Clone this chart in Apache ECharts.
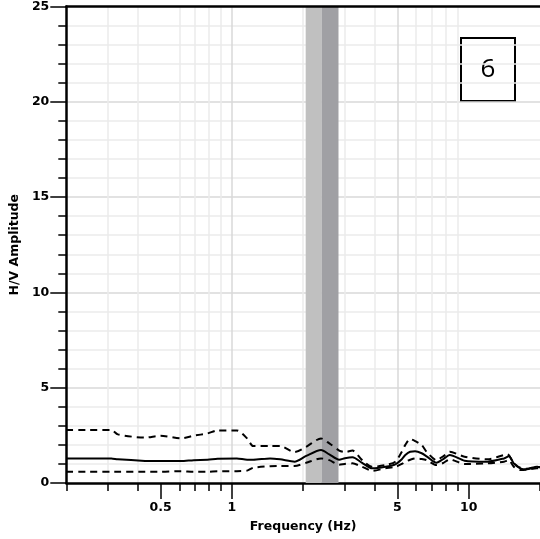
<!DOCTYPE html>
<html><head><meta charset="utf-8">
<script src="https://cdn.jsdelivr.net/npm/echarts@6/dist/echarts.min.js"></script>
<style>html,body{margin:0;padding:0;background:#fff}#c{width:540px;height:539px}</style>
</head><body><div id="c"></div>
<script>
// Frequency (Hz) sample points
const freq = [0.2, 0.25, 0.31, 0.33, 0.43, 0.5, 0.61, 0.69, 0.79, 0.87, 1.05, 1.16, 1.23, 1.45, 1.6, 1.84, 2.06, 2.38, 2.58, 2.84, 3.0, 3.23, 3.55, 3.91, 4.45, 4.9, 5.22, 5.4, 5.66, 5.94, 6.33, 6.64, 7.31, 7.8, 8.32, 9.6, 12.0, 14.1, 14.6, 14.8, 15.5, 16.5, 17.6, 19.4, 20];
// H/V mean curve
const hvMean = [1.29, 1.29, 1.29, 1.24, 1.16, 1.15, 1.15, 1.20, 1.22, 1.27, 1.29, 1.22, 1.22, 1.29, 1.24, 1.12, 1.42, 1.73, 1.50, 1.22, 1.30, 1.35, 1.06, 0.77, 0.85, 0.98, 1.25, 1.47, 1.64, 1.66, 1.56, 1.40, 1.06, 1.25, 1.47, 1.17, 1.12, 1.29, 1.38, 1.42, 1.03, 0.77, 0.72, 0.85, 0.82];
// H/V mean + std (dashed)
const hvUpper = [2.78, 2.78, 2.78, 2.55, 2.38, 2.48, 2.34, 2.48, 2.60, 2.76, 2.76, 2.34, 1.94, 1.94, 1.94, 1.62, 1.90, 2.34, 2.08, 1.70, 1.62, 1.70, 1.20, 0.85, 0.94, 1.12, 1.64, 2.00, 2.30, 2.20, 2.00, 1.64, 1.20, 1.40, 1.64, 1.38, 1.24, 1.47, 1.50, 1.45, 1.05, 0.80, 0.75, 0.85, 0.82];
// H/V mean - std (dashed)
const hvLower = [0.59, 0.59, 0.59, 0.59, 0.59, 0.59, 0.62, 0.59, 0.59, 0.62, 0.62, 0.65, 0.80, 0.88, 0.89, 0.89, 1.06, 1.29, 1.20, 0.96, 1.00, 1.03, 0.85, 0.64, 0.77, 0.85, 1.00, 1.12, 1.22, 1.29, 1.26, 1.20, 0.94, 1.05, 1.24, 1.00, 1.03, 1.12, 1.18, 1.20, 0.85, 0.68, 0.70, 0.77, 0.77];
// f0 band: [f0 - std, f0, f0 + std]
const f0Band = [2.05, 2.40, 2.82];
const majorFreqTicks = [0.5, 1, 5, 10];
const minorFreqTicks = [0.2, 0.3, 0.4, 0.6, 0.7, 0.8, 0.9, 2, 3, 4, 6, 7, 8, 9, 20];
const ampTicks = [0, 5, 10, 15, 20, 25];
const panelLabel = '6';

const FONT = 'DejaVu Sans';
const FS = 12.5;
const chart = echarts.init(document.getElementById('c'));
const pairs = arr => freq.map((f, i) => [f, arr[i]]);
const baseX = {type: 'log', logBase: 10, min: 0.2, max: 20, gridIndex: 0};

chart.setOption({
  animation: false,
  backgroundColor: '#fff',
  grid: {left: 64, right: -3, top: 6, bottom: 56, containLabel: false},
  xAxis: [
    Object.assign({}, baseX, {
      position: 'bottom',
      axisLine: {show: true, onZero: false, lineStyle: {color: '#000', width: 2.5}},
      axisTick: {show: true, customValues: minorFreqTicks, length: 8, lineStyle: {color: '#000', width: 1.5}},
      axisLabel: {show: false},
      splitLine: {show: true, showMinLine: false, showMaxLine: false, lineStyle: {color: '#ebebeb', width: 1.5}}
    }),
    Object.assign({}, baseX, {
      position: 'bottom',
      name: 'Frequency (Hz)', nameLocation: 'middle', nameGap: 37,
      nameTextStyle: {fontFamily: FONT, fontWeight: 'bold', fontSize: FS, color: '#000'},
      axisLine: {show: false},
      axisTick: {show: true, customValues: majorFreqTicks, length: 16, lineStyle: {color: '#000', width: 1.5}},
      axisLabel: {show: true, customValues: majorFreqTicks, margin: 18, fontFamily: FONT, fontWeight: 'bold', fontSize: FS, color: '#000',
        formatter: v => String(+(+v).toPrecision(3))},
      splitLine: {show: true, showMinLine: false, showMaxLine: false, lineStyle: {color: '#d8d8d8', width: 1.5}}
    }),
    Object.assign({}, baseX, {
      position: 'top', z: 5,
      axisLine: {show: true, onZero: false, lineStyle: {color: '#000', width: 2.5}},
      axisTick: {show: false}, axisLabel: {show: false}, splitLine: {show: false}
    })
  ],
  yAxis: {
    type: 'value', min: ampTicks[0], max: ampTicks[ampTicks.length - 1], interval: 5,
    name: 'H/V Amplitude', nameLocation: 'middle', nameGap: 35, nameRotate: 90,
    nameTextStyle: {fontFamily: FONT, fontWeight: 'bold', fontSize: FS, color: '#000'},
    axisLine: {show: true, onZero: false, lineStyle: {color: '#000', width: 2.5}},
    axisTick: {show: true, length: 16, lineStyle: {color: '#000', width: 1.5}},
    minorTick: {show: true, splitNumber: 5, length: 8, lineStyle: {color: '#000', width: 1.5}},
    axisLabel: {margin: 17, fontFamily: FONT, fontWeight: 'bold', fontSize: FS, color: '#000'},
    splitLine: {show: true, showMinLine: false, showMaxLine: false, lineStyle: {color: '#d8d8d8', width: 1.5}},
    minorSplitLine: {show: true, lineStyle: {color: '#ebebeb', width: 1.5}}
  },
  series: [
    {
      type: 'line', xAxisIndex: 0, data: [], silent: true,
      markArea: {silent: true, data: [
        [{xAxis: f0Band[0], itemStyle: {color: '#c0c0c0'}}, {xAxis: f0Band[1]}],
        [{xAxis: f0Band[1], itemStyle: {color: '#a0a0a4'}}, {xAxis: f0Band[2]}]
      ]}
    },
    {type: 'line', xAxisIndex: 0, data: pairs(hvUpper), symbol: 'none', smooth: 0.25, z: 3,
      lineStyle: {color: '#000', width: 2, type: [7, 5]}},
    {type: 'line', xAxisIndex: 0, data: pairs(hvLower), symbol: 'none', smooth: 0.25, z: 3,
      lineStyle: {color: '#000', width: 2, type: [7, 5]}},
    {type: 'line', xAxisIndex: 0, data: pairs(hvMean), symbol: 'none', smooth: 0.25, z: 4,
      lineStyle: {color: '#000', width: 2}}
  ],
  graphic: [{
    type: 'group', left: 460, top: 37, z: 10,
    children: [
      {type: 'rect', shape: {x: 1, y: 1, width: 54, height: 63}, style: {fill: '#fff', stroke: '#000', lineWidth: 2}},
      {type: 'text', x: 28, y: 33, style: {text: panelLabel, fontFamily: 'Open Sans', fontSize: 26, fill: '#000', align: 'center', verticalAlign: 'middle'}}
    ]
  }]
});
</script>
</body></html>
